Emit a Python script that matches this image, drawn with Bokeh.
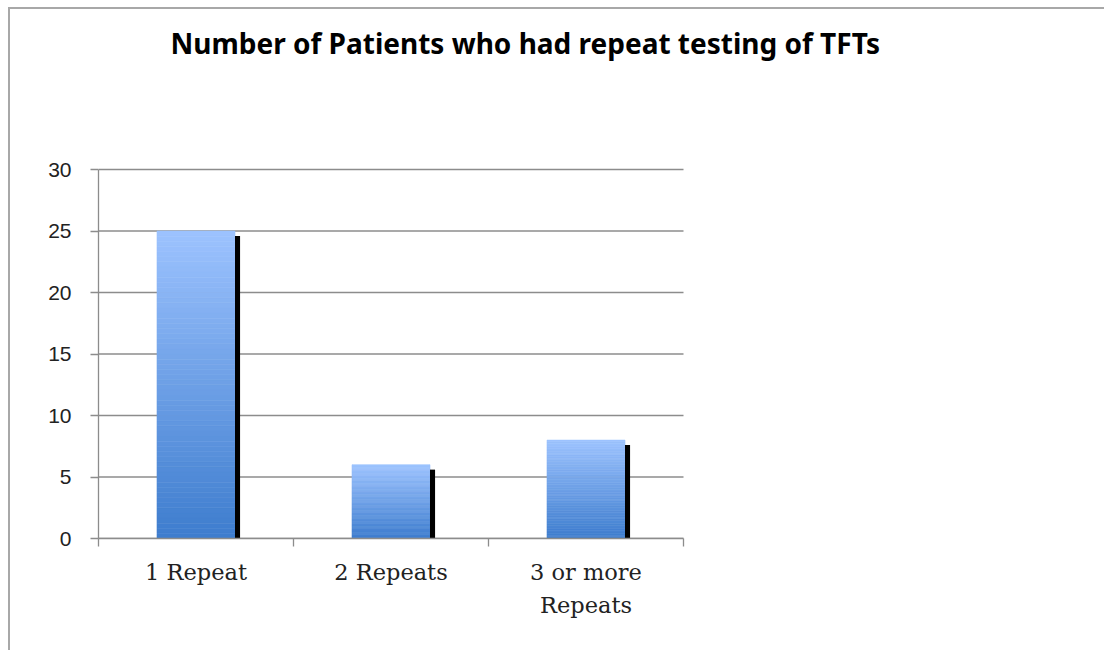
from bokeh.plotting import figure
from bokeh.models import Range1d, FixedTicker, Label, ColumnDataSource
from bokeh.embed import file_html
from bokeh.resources import INLINE

# ---- data ----
categories = ["1 Repeat", "2 Repeats", "3 or more\nRepeats"]
patients = [25, 6, 8]
y_ticks = [0, 5, 10, 15, 20, 25, 30]
title_text = "Number of Patients who had repeat testing of TFTs"

# ---- style ----
GRAY = "#8c8c8c"
TOP_RGB = (157, 195, 255)
BOT_RGB = (62, 125, 206)
BAR_W = 0.4
SHADOW_W = 0.026
SHADOW_DROP = 0.4
N_SLICES = 60
Y_MAX = 30
N_CAT = len(categories)

FIG_W, FIG_H = 1100, 643
LEFT, BOTTOM = 88, 114
FRAME_W = FIG_W - LEFT
FRAME_H = FIG_H - BOTTOM
# axis area: 585 px for the categories, 369 px for 0..30
X_TOP = N_CAT * FRAME_W / 585
Y_TOP = Y_MAX * FRAME_H / 369

p = figure(width=FIG_W, height=FIG_H, output_backend="svg", toolbar_location=None,
           x_range=Range1d(0, X_TOP), y_range=Range1d(0, Y_TOP),
           min_border_left=LEFT, min_border_top=0, min_border_right=0, min_border_bottom=BOTTOM)
p.styles = {"border-top": "2px solid #a8a8a8", "border-left": "2px solid #a8a8a8",
            "border-right": "0px none white", "border-bottom": "0px none white",
            "margin-left": "8px", "margin-top": "7px",
            "clip-path": "inset(0px 4px 0px 0px)"}
p.outline_line_color = None
p.background_fill_color = "white"
p.border_fill_color = "white"
p.xgrid.grid_line_color = None
p.ygrid.grid_line_color = None

# horizontal gridlines over the category area
p.segment(x0=0, x1=N_CAT, y0=y_ticks, y1=y_ticks, line_color=GRAY, line_width=1.3)

# gradient bars built from stacked slices
xs, bots, tops, cols = [], [], [], []
for i, v in enumerate(patients):
    for k in range(N_SLICES):
        t = (k + 0.5) / N_SLICES
        r = int(BOT_RGB[0] + (TOP_RGB[0] - BOT_RGB[0]) * t)
        g = int(BOT_RGB[1] + (TOP_RGB[1] - BOT_RGB[1]) * t)
        b = int(BOT_RGB[2] + (TOP_RGB[2] - BOT_RGB[2]) * t)
        xs.append(i + 0.5)
        bots.append(v * k / N_SLICES)
        tops.append(v * (k + 1) / N_SLICES)
        cols.append("#%02x%02x%02x" % (r, g, b))
src = ColumnDataSource(dict(x=xs, bottom=bots, top=tops, color=cols))
p.vbar(x="x", bottom="bottom", top="top", width=BAR_W, source=src,
       fill_color="color", line_color="color", line_width=0.6)

# shadows
sh = ColumnDataSource(dict(
    x=[i + 0.5 + BAR_W / 2 + SHADOW_W / 2 for i in range(N_CAT)],
    top=[v - SHADOW_DROP for v in patients]))
p.vbar(x="x", top="top", bottom=0, width=SHADOW_W, source=sh,
       fill_color="black", line_color=None)

# axes
p.yaxis.ticker = FixedTicker(ticks=y_ticks)
p.yaxis.bounds = (0, Y_MAX)
p.yaxis.axis_line_color = GRAY
p.yaxis.axis_line_width = 1.3
p.yaxis.major_tick_line_color = GRAY
p.yaxis.major_tick_line_width = 1.3
p.yaxis.major_tick_out = 8
p.yaxis.major_tick_in = 0
p.yaxis.minor_tick_line_color = None
p.yaxis.major_label_text_font = "Liberation Sans"
p.yaxis.major_label_text_font_size = "21px"
p.yaxis.major_label_text_color = "#222222"
p.yaxis.major_label_standoff = 19

centers = [i + 0.5 for i in range(N_CAT)]
p.xaxis.ticker = FixedTicker(ticks=centers, minor_ticks=list(range(N_CAT + 1)))
p.xaxis.bounds = (0, N_CAT)
p.xaxis.major_label_overrides = {c: lab for c, lab in zip(centers, categories)}
p.xaxis.axis_line_color = GRAY
p.xaxis.axis_line_width = 1.3
p.xaxis.major_tick_line_color = None
p.xaxis.minor_tick_line_color = GRAY
p.xaxis.minor_tick_line_width = 1.3
p.xaxis.minor_tick_out = 8
p.xaxis.minor_tick_in = 0
p.xaxis.major_label_text_font = "DejaVu Serif"
p.xaxis.major_label_text_font_size = "22.5px"
p.xaxis.major_label_text_color = "#222222"
p.xaxis.major_label_text_line_height = 1.3
p.xaxis.major_label_standoff = 12

p.add_layout(Label(x=0, y=Y_MAX, x_offset=72, y_offset=127, text=title_text,
                   text_baseline="alphabetic", text_align="left",
                   text_font="Noto Sans", text_font_style="bold",
                   text_font_size="28px", text_color="black"))

open("out.html", "w").write(file_html(p, INLINE))
